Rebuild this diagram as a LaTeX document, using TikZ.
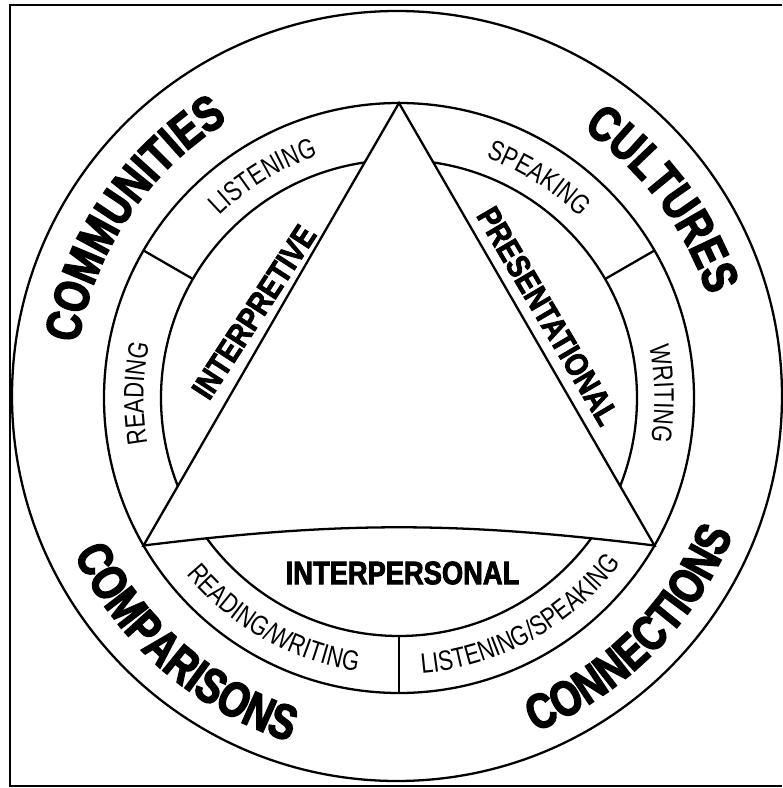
\documentclass[tikz,border=0pt]{standalone}
\usepackage{fontspec}
\usetikzlibrary{decorations.text}
\newfontfamily\heavyface[FakeStretch=0.79,FakeBold=3]{Liberation Sans Bold}
\newfontfamily\modeface[FakeStretch=0.84,FakeBold=2.5]{Liberation Sans Bold}
\newfontfamily\plainface[FakeStretch=0.78]{Liberation Sans}
\newcommand{\ringfont}{\heavyface\fontsize{28}{30}\selectfont}
\newcommand{\skillfont}{\plainface\fontsize{16}{18}\selectfont}
\newcommand{\modefont}{\modeface\fontsize{18.5}{20}\selectfont}

\begin{document}
\begin{tikzpicture}[
    line/.style={line width=1.3pt},
    ringtext/.style={decorate, decoration={text along path, text align=center, text={#1}}},
    modelabel/.style={font=\modefont, inner sep=0pt},
  ]
  \useasboundingbox (-7.98,-7.80) rectangle (7.66,7.96);
  \draw[line width=1.1pt] (7.66,7.86) -- (-7.78,7.86) -- (-7.78,-7.76) -- (7.66,-7.76);

  \draw[line] (-0.04,0.04) circle[radius=7.7];
  \draw[line] (0,0) circle[radius=5.9];

  \coordinate (apex)  at (90:5.9);
  \coordinate (left)  at (210:5.9);
  \coordinate (right) at (330:5.9);

  % skills ring, only outside the triangle
  \begin{scope}
    \clip (-8,-8) -- (8,-8) -- (8,8) -- (-8,8) -- cycle
          (apex) -- (right) to[bend right=7] (left) -- cycle;
    \draw[line] (0,0) circle[radius=4.76];
  \end{scope}
  \draw[line] (apex) -- (right) to[bend right=7] (left) -- cycle;
  \foreach \a in {30,150,270}
    \draw[line] (\a:4.76) -- (\a:5.9);

  % the five Cs
  \path[ringtext={|\ringfont|COMMUNITIES}] (186:6.51) arc[start angle=186, end angle=106, radius=6.51];
  \path[ringtext={|\ringfont|CULTURES}] (77:6.51) arc[start angle=77, end angle=-3, radius=6.51];
  \path[ringtext={|\ringfont|COMPARISONS}] (189:7.21) arc[start angle=189, end angle=269, radius=7.21];
  \path[ringtext={|\ringfont|CONNECTIONS}] (275:7.21) arc[start angle=275, end angle=355, radius=7.21];

  % skills
  \path[ringtext={|\skillfont|LISTENING}] (161.5:5.11) arc[start angle=161.5, end angle=81.5, radius=5.11];
  \path[ringtext={|\skillfont|SPEAKING}] (97.5:5.11) arc[start angle=97.5, end angle=17.5, radius=5.11];
  \path[ringtext={|\skillfont|READING}] (219:5.11) arc[start angle=219, end angle=139, radius=5.11];
  \path[ringtext={|\skillfont|WRITING}] (41:5.11) arc[start angle=41, end angle=-39, radius=5.11];
  \path[ringtext={|\skillfont|READING/WRITING}] (200.5:5.53) arc[start angle=200.5, end angle=280.5, radius=5.53];
  \path[ringtext={|\skillfont|LISTENING/SPEAKING}] (259:5.53) arc[start angle=259, end angle=339, radius=5.53];

  % modes
  \node[modelabel, rotate=57] (interp) at (-2.9,1.72) {INTERPRETIVE};
  \node[modelabel, rotate=-59.5] (pres) at (2.98,1.64) {PRESENTATIONAL};
  \node[modelabel] (inpers) at (0.07,-3.5) {INTERPERSONAL};
\end{tikzpicture}
\end{document}
